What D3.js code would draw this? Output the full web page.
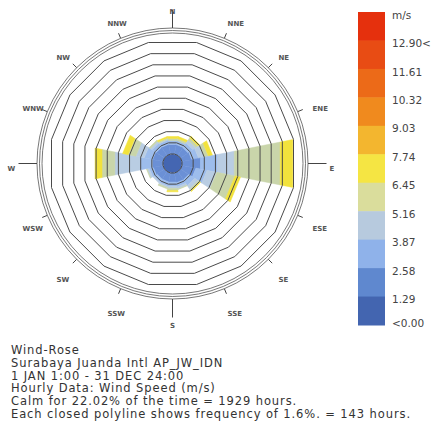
<!DOCTYPE html>
<html lang="en">
<head>
<meta charset="utf-8" />
<title>Wind Rose</title>
<script src="https://d3js.org/d3.v7.min.js"></script>
<style>
  body { margin: 0; background: #fff; }
  svg { display: block; font-family: "DejaVu Sans", Verdana, sans-serif; }
</style>
</head>
<body>
<script>
// directions, clockwise from north
const directions = ["N", "NNE", "NE", "ENE", "E", "ESE", "SE", "SSE",
                    "S", "SSW", "SW", "WSW", "W", "WNW", "NW", "NNW"];

// frequency (%) per speed band, one value per direction
const freq129 = [1.36, 1.36, 1.3, 1.4, 2.65, 2.0, 1.4, 1.4, 1.3, 1.3, 1.3, 1.4, 1.5, 1.5, 1.4, 1.4];
const freq258 = [0.57, 0.57, 0.8, 1.0, 2.45, 1.6, 1.0, 0.6, 0.6, 0.6, 0.5, 0.6, 1.8, 1.2, 0.7, 0.6];
const freq387 = [0.0, 0.0, 0.5, 0.8, 2.4, 1.4, 0.6, 0.3, 0.3, 0.2, 0.2, 0.3, 3.6, 1.2, 0.3, 0.1];
const freq516 = [0.29, 0.3, 0.4, 0.6, 6.6, 2.6, 0.3, 0.1, 0.3, 0.2, 0.0, 0.1, 1.85, 1.1, 0.2, 0.2];
const freq645 = [0.29, 0.3, 0.3, 0.6, 1.8, 0.8, 0.1, 0.0, 0.2, 0.0, 0.0, 0.0, 1.0, 0.8, 0.0, 0.2];
const bands = [freq129, freq258, freq387, freq516, freq645];
const bandColors = ["#6b90d6", "#9dbdec", "#b9cde3", "#c9d5aa", "#f2e23c"];

const ringStep = 1.6;   // % per closed polyline
const ringCount = 11;

const legendLabels = ["m/s", "12.90<", "11.61", "10.32", "9.03", "7.74", "6.45",
                      "5.16", "3.87", "2.58", "1.29", "<0.00"];
const legendColors = ["#e5300d", "#e84c14", "#ec6a18", "#f08a1e", "#f3b62f", "#f5e543",
                      "#dadd9c", "#b7cade", "#8fb2ea", "#5f88cf", "#4365b0"];

const footLines = [
  "Wind-Rose",
  "Surabaya Juanda Intl AP_JW_IDN",
  "1 JAN 1:00 - 31 DEC 24:00",
  "Hourly Data: Wind Speed (m/s)",
  "Calm for 22.02% of the time = 1929 hours.",
  "Each closed polyline shows frequency of 1.6%. = 143 hours."
];

const width = 432, height = 434;
const cx = 172.5, cy = 163.5;

const svg = d3.select("body").append("svg")
  .attr("width", width)
  .attr("height", height);

const rScale = d3.scaleLinear()
  .domain([0, ringStep * (ringCount - 1)])
  .range([9.5, 121]);

const half = Math.PI / 16;           // half sector, 11.25 deg
const rad = d => d * Math.PI / 8;    // direction index -> angle
const pt = (a, r) => [cx + r * Math.sin(a), cy - r * Math.cos(a)];

// trapezoid piece of a sector between two apothems
function segment(i, p0, p1) {
  const a = rad(i), k = 1 / Math.cos(half);
  const r0 = rScale(p0) * k, r1 = rScale(p1) * k;
  return [pt(a - half, r0), pt(a - half, r1), pt(a + half, r1), pt(a + half, r0)];
}

// stacked sectors
const pieces = [];
directions.forEach((d, i) => {
  let acc = 0;
  bands.forEach((b, j) => {
    if (b[i] > 0) pieces.push({ i: i, p0: acc, p1: acc + b[i], color: bandColors[j] });
    acc += b[i];
  });
});

svg.append("g").selectAll("polygon")
  .data(pieces)
  .enter()
  .append("polygon")
  .attr("points", d => segment(d.i, d.p0, d.p1).join(" "))
  .attr("fill", d => d.color)
  .attr("stroke", d => d.color)
  .attr("stroke-width", 0.5);

// calm disc
svg.append("circle")
  .attr("cx", cx).attr("cy", cy)
  .attr("r", rScale(0))
  .attr("fill", "#4466b2");

// closed polylines
const ringLine = d3.line().curve(d3.curveLinearClosed);
svg.append("g").selectAll("path")
  .data(d3.range(ringCount))
  .enter()
  .append("path")
  .attr("d", k => {
    const R = rScale(k * ringStep) / Math.cos(half);
    return ringLine(directions.map((d, i) => pt(rad(i) + half, R)));
  })
  .attr("fill", "none")
  .attr("stroke", "#4a4a4a")
  .attr("stroke-width", 1);

// outer circles
svg.append("g").selectAll("circle")
  .data([130.5, 133, 135.5])
  .enter()
  .append("circle")
  .attr("cx", cx).attr("cy", cy)
  .attr("r", d => d)
  .attr("fill", "none")
  .attr("stroke", "#555")
  .attr("stroke-width", 0.8);

// direction ticks
svg.append("g").selectAll("line")
  .data(directions)
  .enter()
  .append("line")
  .attr("x1", (d, i) => pt(rad(i), 135.5)[0])
  .attr("y1", (d, i) => pt(rad(i), 135.5)[1])
  .attr("x2", (d, i) => pt(rad(i), i % 4 === 0 ? 154 : 141)[0])
  .attr("y2", (d, i) => pt(rad(i), i % 4 === 0 ? 154 : 141)[1])
  .attr("stroke", "#444")
  .attr("stroke-width", 1);

// direction labels
svg.append("g").selectAll("text")
  .data(directions)
  .enter()
  .append("text")
  .attr("x", (d, i) => {
    const s = Math.sin(rad(i));
    if (i % 8 === 0) return cx;
    if (i % 8 === 4) return cx + 161 * s - 4;
    return cx + 157 * s - 5;
  })
  .attr("y", (d, i) => cy + 5 - 157 * Math.cos(rad(i)))
  .attr("dy", "0.35em")
  .attr("text-anchor", (d, i) => i % 8 === 0 ? "middle" : "start")
  .attr("font-size", 7)
  .attr("font-weight", "bold")
  .attr("fill", "#555")
  .text(d => d);

// legend
const legendY = d3.scaleLinear().domain([0, legendColors.length]).range([12, 325]);
svg.append("g").selectAll("rect")
  .data(legendColors)
  .enter()
  .append("rect")
  .attr("x", 358)
  .attr("y", (d, i) => legendY(i))
  .attr("width", 27)
  .attr("height", legendY(1) - legendY(0) + 0.5)
  .attr("fill", d => d);

svg.append("g").selectAll("text")
  .data(legendLabels)
  .enter()
  .append("text")
  .attr("x", 392)
  .attr("y", (d, i) => i === legendLabels.length - 1 ? legendY(i) - 2 : legendY(i) + 3)
  .attr("dy", "0.35em")
  .attr("font-size", 10.5)
  .attr("fill", "#444")
  .text(d => d);

// footer text
svg.append("g").selectAll("text")
  .data(footLines)
  .enter()
  .append("text")
  .attr("x", 11)
  .attr("y", (d, i) => 354 + i * 12.8)
  .attr("font-size", 11.5)
  .attr("letter-spacing", 0.9)
  .attr("fill", "#333")
  .text(d => d);
</script>
</body>
</html>
